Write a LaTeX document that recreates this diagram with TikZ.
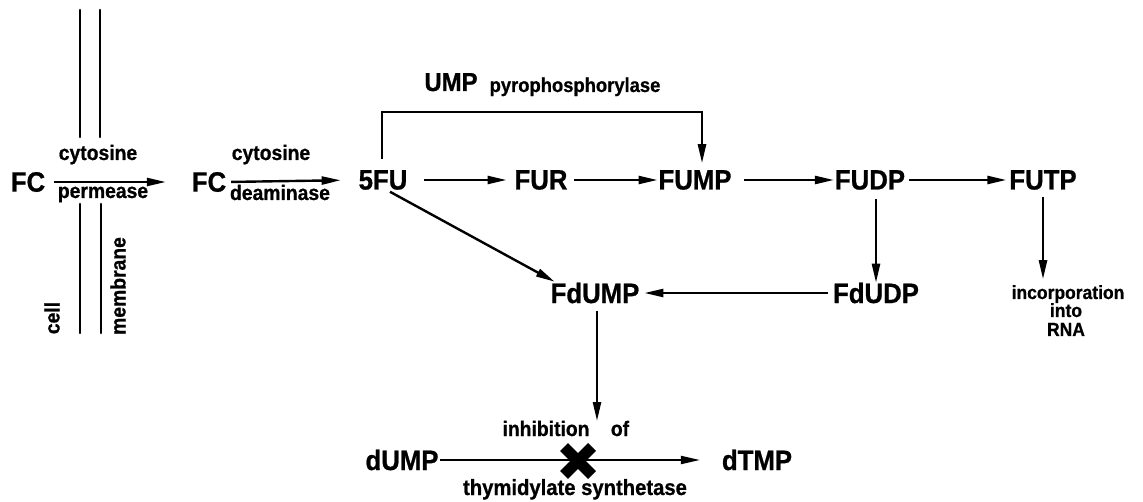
\documentclass[tikz,border=0pt]{standalone}
\usepackage{fontspec}
\setmainfont{Liberation Sans}[FakeStretch=0.92,BoldFeatures={FakeBold=0.8}]
\usetikzlibrary{arrows.meta}
\begin{document}
\begin{tikzpicture}[x=1pt,y=-1pt,
  every node/.style={inner sep=0pt,outer sep=0pt,font=\bfseries},
  big/.style={font=\fontsize{28}{30}\selectfont\bfseries},
  lbl/.style={anchor=base,font=\fontsize{21}{23}\selectfont\bfseries},
  sml/.style={anchor=base,font=\fontsize{19}{21}\selectfont\bfseries},
  arr/.style={line width=2.4pt,-{Triangle[length=19pt,width=8pt]}},
  wall/.style={line width=2.6pt,line cap=round}]
\useasboundingbox (0,0) rectangle (1143,502);

% cell membrane
\draw[wall] (80,10) -- (80,137);
\draw[wall] (100,10) -- (100,137);
\draw[wall] (80,204) -- (80,333);
\draw[wall] (101,204) -- (101,333);
\node[lbl,rotate=90,anchor=center] (cell) at (52,318) {cell};
\node[lbl,rotate=90,anchor=center] (membr) at (118,286) {membrane};

% metabolites
\node[big] (fc1)   at (28,182)  {FC};
\node[big] (fc2)   at (209,182) {FC};
\node[big] (fu5)   at (383,180) {5FU};
\node[big] (fur)   at (541,180) {FUR};
\node[big] (fump)  at (695,180) {FUMP};
\node[big] (fudp)  at (870,180) {FUDP};
\node[big] (futp)  at (1043,180) {FUTP};
\node[big] (fdudp) at (876,293) {FdUDP};
\node[big] (fdump) at (595,293) {FdUMP};
\node[big] (dump)  at (402,460) {dUMP};
\node[big] (dtmp)  at (757,460) {dTMP};

% enzyme labels
\node[lbl] (cyt1) at (98,160)  {cytosine};
\node[lbl] (perm) at (103,198) {permease};
\node[lbl] (cyt2) at (271,160) {cytosine};
\node[lbl] (deam) at (280,200) {deaminase};
\node[anchor=base,font=\fontsize{26}{28}\selectfont\bfseries] (ump) at (451,91) {UMP};
\node[lbl,font=\fontsize{20}{22}\selectfont\bfseries] (pyro) at (575,92) {pyrophosphorylase};
\node[lbl] (inhib) at (546,436) {inhibition};
\node[lbl] (of) at (620,436) {of};
\node[lbl,font=\fontsize{22}{24}\selectfont\bfseries] (tsyn) at (575,495) {thymidylate synthetase};
\node[sml] (inc)  at (1068,299) {incorporation};
\node[sml] (into) at (1066,317) {into};
\node[sml] (rna)  at (1066,336) {RNA};

% reactions
\draw[arr,shorten <=9pt,shorten >=26pt] (fc1.east) -- (fc2.west);
\draw[arr,shorten <=5pt,shorten >=18pt] (fc2.east) -- (fu5.west);
\draw[arr,shorten <=17pt,shorten >=8pt] (fu5.east) -- (fur.west);
\draw[arr,shorten <=7pt,shorten >=1pt] (fur.east) -- (fump.west);
\draw[arr,shorten <=13pt,shorten >=1pt] (fump.east) -- (fudp.west);
\draw[arr,shorten <=4pt,shorten >=3pt] (fudp.east) -- (futp.west);
\draw[arr,shorten <=9pt] (fudp.south -| fdudp.north) -- (fdudp.north);
\draw[arr,shorten <=7pt,shorten >=6pt] (futp.south) -- (futp.south |- inc.north);
\draw[arr,shorten <=5pt,shorten >=5pt] (fdudp.west) -- (fdump.east);
\draw[arr] ([xshift=7pt,yshift=-2pt]fu5.south) -- ([xshift=4pt,yshift=1pt]fdump.north west);

% bypass via UMP pyrophosphorylase
\coordinate (bt) at (382,112);
\draw[arr] ([xshift=-1pt,yshift=11pt]fu5.north) -- (bt) -- ([xshift=7pt]fump.north |- bt)
  -- ([xshift=7pt,yshift=7pt]fump.north);

% inhibition of thymidylate synthetase
\coordinate (tsend) at (597,421);
\draw[arr,shorten <=8pt] ([xshift=2pt]fdump.south) -- (tsend);
\draw[arr,line width=2pt,shorten <=2pt,shorten >=22pt] (dump.east) -- (dtmp.west);
\coordinate (xm) at (578,461);
\draw[line width=11pt] ([shift={(-14,-14)}]xm) -- ([shift={(14,14)}]xm);
\draw[line width=11pt] ([shift={(-14,14)}]xm) -- ([shift={(14,-14)}]xm);
\end{tikzpicture}
\end{document}
